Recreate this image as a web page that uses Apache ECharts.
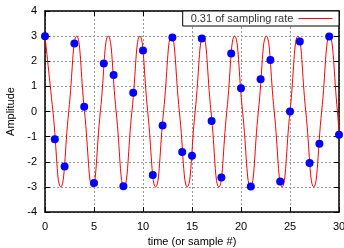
<!DOCTYPE html>
<html>
<head>
<meta charset="utf-8">
<script src="https://cdn.jsdelivr.net/npm/echarts@6/dist/echarts.min.js"></script>
<style>html,body{margin:0;padding:0;background:#fff}#chart{width:344px;height:248px}</style>
</head>
<body>
<div id="chart"></div>
<script>
// sampled points (integer sample #)
var sampleX = [0,1,2,3,4,5,6,7,8,9,10,11,12,13,14,15,16,17,18,19,20,21,22,23,24,25,26,27,28,29,30];
var sampleY = [3,-1.10,-2.19,2.71,0.19,-2.85,1.91,1.45,-2.98,0.75,2.43,-2.53,-0.56,2.95,-1.61,-1.76,2.91,-0.38,-2.63,2.31,0.93,-2.99,1.28,2.05,-2.79,0,2.79,-2.05,-1.28,2.99,-0.93];
// continuous signal: peaks, zero crossings, troughs
var waveX = [0,0.81,1.61,2.42,3.23,4.03,4.84,5.65,6.45,7.26,8.06,8.87,9.68,10.48,11.29,12.10,12.90,13.71,14.52,15.32,16.13,16.94,17.74,18.55,19.35,20.16,20.97,21.77,22.58,23.39,24.19,25.00,25.81,26.61,27.42,28.23,29.03,29.84,30];
var waveY = [3,0,-3,0,3,0,-3,0,3,0,-3,0,3,0,-3,0,3,0,-3,0,3,0,-3,0,3,0,-3,0,3,0,-3,0,3,0,-3,0,3,0,-0.93];
var legendName = '0.31 of sampling rate';

var myChart = echarts.init(document.getElementById('chart'));
var font = 'Liberation Sans, Arial, sans-serif';
var axisBase = {
  axisLine: {show: true, onZero: false, lineStyle: {color: '#000', width: 1.5}},
  axisTick: {show: true, inside: true, length: 5, lineStyle: {color: '#000'}},
  splitLine: {show: false}
};
var option = {
  animation: false,
  grid: {left: 45, right: 5, top: 11, bottom: 36, containLabel: false, outerBoundsMode: 'none'},
  legend: {
    data: [legendName],
    right: 5, top: 11,
    align: 'right',
    itemWidth: 34, itemHeight: 10,
    padding: [2, 6, 2, 8],
    borderColor: '#000', borderWidth: 1, borderRadius: 0,
    backgroundColor: '#fff',
    itemStyle: {opacity: 0},
    lineStyle: {color: '#ff0000', width: 1.2},
    textStyle: {fontFamily: font, fontSize: 11, color: '#333'}
  },
  xAxis: [
    Object.assign({}, axisBase, {
      type: 'value', min: 0, max: 30, interval: 5,
      name: 'time (or sample #)', nameLocation: 'middle', nameGap: 22,
      nameTextStyle: {fontFamily: font, fontSize: 11, color: '#000'},
      axisLabel: {fontFamily: font, fontSize: 11, color: '#000', margin: 9},
      splitLine: {show: true, lineStyle: {color: '#999', type: [2, 2], width: 1}}
    }),
    Object.assign({}, axisBase, {
      type: 'value', min: 0, max: 30, interval: 5, position: 'top',
      axisLabel: {show: false}
    })
  ],
  yAxis: [
    Object.assign({}, axisBase, {
      type: 'value', min: -4, max: 4, interval: 1,
      name: 'Amplitude', nameLocation: 'middle', nameGap: 26,
      nameTextStyle: {fontFamily: font, fontSize: 11, color: '#000'},
      axisLabel: {fontFamily: font, fontSize: 11, color: '#000', margin: 8},
      splitLine: {show: true, lineStyle: {color: '#999', type: [2, 2], width: 1}}
    }),
    Object.assign({}, axisBase, {
      type: 'value', min: -4, max: 4, interval: 1, position: 'right',
      axisLabel: {show: false}
    })
  ],
  series: [
    {
      name: legendName,
      type: 'line',
      data: waveX.map(function (x, i) { return [x, waveY[i]]; }),
      smooth: 0.5,
      symbol: 'none',
      clip: true,
      lineStyle: {color: '#ff0000', width: 1},
      itemStyle: {color: '#ff0000'},
      z: 3
    },
    {
      name: 'samples',
      type: 'scatter',
      data: sampleX.map(function (x, i) { return [x, sampleY[i]]; }),
      symbolSize: 8,
      itemStyle: {color: '#0000ff', opacity: 1},
      clip: false,
      z: 4
    }
  ]
};
myChart.setOption(option);
</script>
</body>
</html>
